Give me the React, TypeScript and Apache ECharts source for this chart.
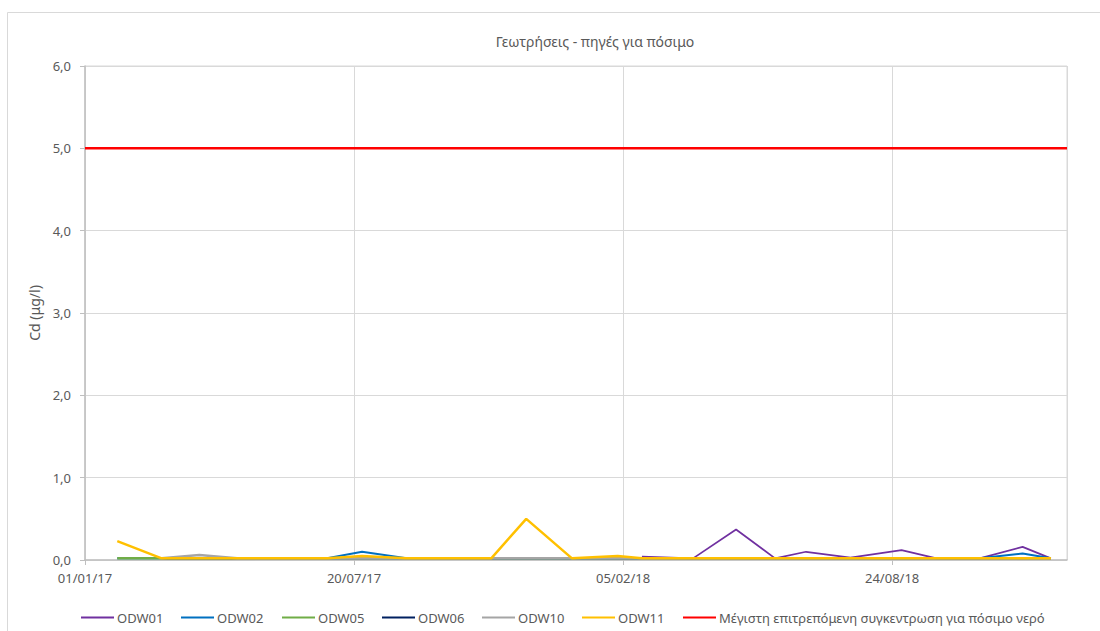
import React, { useEffect, useRef } from "react";
import * as echarts from "echarts";

const TITLE = "Γεωτρήσεις - πηγές για πόσιμο";
const Y_NAME = "Cd (μg/l)";
const LIMIT_NAME = "Μέγιστη επιτρεπόμενη συγκεντρωση για πόσιμο νερό";
const LIMIT_VALUE = 5.0;

const X_START = "2017-01-01";
const X_END = "2019-01-01";
const X_TICK_DAYS = 200;

const DATES = [
  "2017-01-25", "2017-02-27", "2017-03-27", "2017-04-24", "2017-05-26", "2017-06-30",
  "2017-07-26", "2017-08-28", "2017-09-28", "2017-10-30", "2017-11-25", "2017-12-29",
  "2018-02-01", "2018-02-19", "2018-03-29", "2018-04-30", "2018-05-29", "2018-06-21",
  "2018-07-24", "2018-08-31", "2018-09-26", "2018-10-28", "2018-11-29", "2018-12-20",
];

const ODW01 = [null, null, null, null, null, null, null, null, null, null, null, null,
  null, 0.04, 0.02, 0.37, 0.02, 0.10, 0.03, 0.12, 0.02, 0.02, 0.16, 0.02];
const ODW02 = [0.02, 0.02, 0.02, 0.02, 0.02, 0.02, 0.10, 0.02, 0.02, 0.02, 0.02, 0.02,
  0.02, 0.02, 0.02, 0.02, 0.02, 0.02, 0.02, 0.02, 0.02, 0.02, 0.08, 0.02];
const ODW05 = [0.02, 0.02, 0.02, 0.02, 0.02, 0.02, 0.02, 0.02, 0.02, 0.02, 0.02, 0.02,
  0.02, 0.02, 0.02, 0.02, 0.02, 0.02, 0.02, 0.02, 0.02, 0.02, 0.02, 0.02];
const ODW06 = [null, 0.02, 0.02, 0.02, 0.02, 0.02, 0.02, 0.02, 0.02, 0.02, 0.02, 0.02,
  0.02, 0.02, 0.02, 0.02, 0.02, 0.02, 0.02, 0.02, 0.02, 0.02, 0.02, 0.02];
const ODW10 = [null, 0.02, 0.06, 0.02, 0.02, 0.02, 0.02, 0.02, 0.02, 0.02, 0.02, 0.02,
  0.02, 0.02, 0.02, 0.02, 0.02, 0.02, 0.02, 0.02, 0.02, 0.02, 0.02, 0.02];
const ODW11 = [0.23, 0.02, 0.02, 0.02, 0.02, 0.02, 0.05, 0.02, 0.02, 0.02, 0.50, 0.02,
  0.05, 0.02, 0.02, 0.02, 0.02, 0.02, 0.02, 0.02, 0.02, 0.02, 0.02, 0.02];

const SERIES_NAMES = ["ODW01", "ODW02", "ODW05", "ODW06", "ODW10", "ODW11"];
const SERIES_VALUES = [ODW01, ODW02, ODW05, ODW06, ODW10, ODW11];
const SERIES_COLORS = ["#7030A0", "#0070C0", "#70AD47", "#002060", "#A5A5A5", "#FFC000"];
const SERIES_WIDTHS = [1.75, 2, 2.5, 2, 2.5, 2.5];
const LIMIT_COLOR = "#FF0000";

const LEGEND_LEFTS = [81, 181, 282, 382, 482, 582, 683];

const DAY = 86400000;
const parse = (s: string) => {
  const [y, m, d] = s.split("-").map(Number);
  return Date.UTC(y, m - 1, d);
};
const BASE = parse(X_START);
const dayOf = (s: string) => Math.round((parse(s) - BASE) / DAY);
const pad = (n: number) => (n < 10 ? "0" + n : "" + n);
const fmtDay = (v: number) => {
  const d = new Date(BASE + v * DAY);
  return `${pad(d.getUTCDate())}/${pad(d.getUTCMonth() + 1)}/${pad(d.getUTCFullYear() % 100)}`;
};

const FONT = "'Noto Sans', 'DejaVu Sans', sans-serif";
const TEXT = "#595959";
const GRID = "#D9D9D9";
const AXIS = "#BFBFBF";

export default function App() {
  const ref = useRef<HTMLDivElement>(null);

  useEffect(() => {
    if (!ref.current) return;
    const chart = echarts.init(ref.current, null, { renderer: "svg" });

    const lineSeries: any[] = SERIES_NAMES.map((name, i) => ({
      name,
      type: "line",
      symbol: "none",
      color: SERIES_COLORS[i],
      lineStyle: { color: SERIES_COLORS[i], width: SERIES_WIDTHS[i] },
      data: DATES.map((d, j) => [dayOf(d), SERIES_VALUES[i][j]]).filter((p) => p[1] !== null),
      z: 2 + i,
    }));
    lineSeries.push({
      name: LIMIT_NAME,
      type: "line",
      symbol: "none",
      color: LIMIT_COLOR,
      lineStyle: { color: LIMIT_COLOR, width: 2.5 },
      data: [
        [dayOf(X_START), LIMIT_VALUE],
        [dayOf(X_END), LIMIT_VALUE],
      ],
      z: 10,
    });

    const allNames = [...SERIES_NAMES, LIMIT_NAME];
    const allColors = [...SERIES_COLORS, LIMIT_COLOR];
    const legends = allNames.map((n, i) => ({
      data: [{ name: n, icon: "rect", itemStyle: { color: allColors[i] } }],
      left: LEGEND_LEFTS[i],
      top: 611,
      padding: 0,
      itemWidth: 33,
      itemHeight: 2,
      itemGap: 0,
      textStyle: { fontFamily: FONT, fontSize: 13, color: TEXT, padding: [0, 0, 0, -2] },
      selectedMode: false,
    }));

    chart.setOption({
      animation: false,
      backgroundColor: "#FFFFFF",
      textStyle: { fontFamily: FONT },
      title: {
        text: TITLE,
        left: 595,
        top: 34,
        padding: 0,
        textAlign: "center",
        textStyle: { fontFamily: FONT, fontSize: 14, fontWeight: "normal", color: TEXT },
      },
      legend: legends,
      grid: {
        left: 85,
        right: 33,
        top: 66,
        bottom: 71,
        show: true,
        borderColor: GRID,
        borderWidth: 1,
        containLabel: false,
      },
      xAxis: {
        type: "value",
        min: dayOf(X_START),
        max: dayOf(X_END),
        interval: X_TICK_DAYS,
        axisLine: { show: true, lineStyle: { color: AXIS, width: 1.5 } },
        axisTick: { show: true, length: 5, lineStyle: { color: AXIS } },
        splitLine: { show: true, lineStyle: { color: GRID, width: 1 } },
        axisLabel: {
          formatter: (v: number) => fmtDay(v),
          showMaxLabel: false,
          showMinLabel: true,
          margin: 11,
          fontFamily: FONT,
          fontSize: 13,
          color: TEXT,
        },
      },
      yAxis: {
        type: "value",
        min: 0,
        max: 6,
        interval: 1,
        name: Y_NAME,
        nameLocation: "middle",
        nameRotate: 90,
        nameGap: 44,
        nameTextStyle: { fontFamily: FONT, fontSize: 14, color: TEXT },
        axisLine: { show: true, lineStyle: { color: AXIS, width: 1.5 } },
        axisTick: { show: true, length: 5, lineStyle: { color: AXIS } },
        splitLine: { show: true, lineStyle: { color: GRID, width: 1 } },
        axisLabel: {
          formatter: (v: number) => v.toFixed(1).replace(".", ","),
          margin: 14,
          fontFamily: FONT,
          fontSize: 13,
          color: TEXT,
        },
      },
      graphic: [
        {
          type: "rect",
          silent: true,
          shape: { x: 7.5, y: 12.5, width: 1200, height: 800 },
          style: { fill: "none", stroke: GRID, lineWidth: 1 },
          z: -1,
        },
      ],
      series: lineSeries,
    });

    return () => chart.dispose();
  }, []);

  return (
    <div
      ref={ref}
      style={{ position: "fixed", left: 0, top: 0, width: 1100, height: 631, background: "#fff" }}
    />
  );
}
